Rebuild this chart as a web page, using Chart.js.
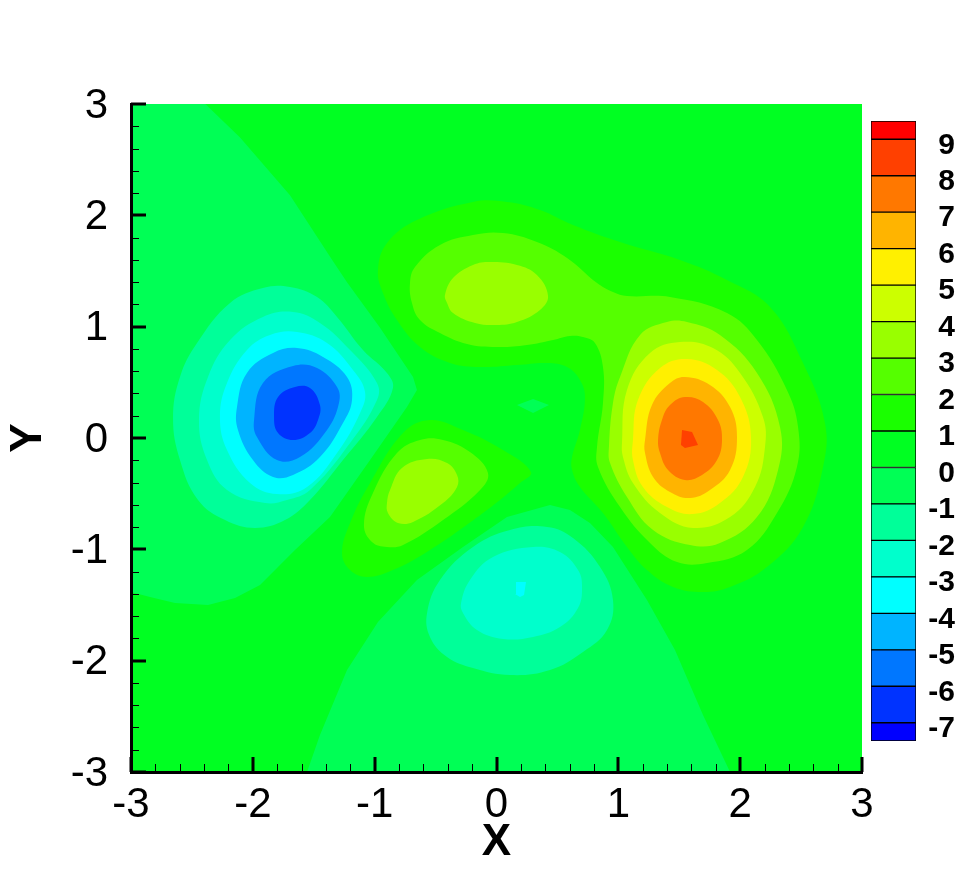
<!DOCTYPE html>
<html>
<head>
<meta charset="utf-8">
<title>Contour</title>
<script src="https://cdn.jsdelivr.net/npm/chart.js@4/dist/chart.umd.min.js"></script>
<style>
    html, body { margin: 0; padding: 0; background: #fff; }
    #wrap { position: relative; width: 977px; height: 869px; overflow: hidden; }
    #contourChart { position: absolute; left: 0; top: 0; }
    #barChart { position: absolute; left: 860px; top: 0; }
</style>
</head>
<body>
<div id="wrap">
    <canvas id="contourChart" width="977" height="869"></canvas>
    <canvas id="barChart" width="117" height="869"></canvas>
</div>
<script>
// contour bands, x/y in axis units
const plotBox = [[-3, 3], [3, 3], [3, -3], [-3, -3]];
const leftOuter = [[-3,3],[-2.39,3],[-2.105,2.7],[-1.695,2.18],[-1.35,1.6],[-1.227,1.4],[-0.956,0.99],[-0.685,0.548],[-0.653,0.431],[-0.735,0.278],[-1.055,-0.225],[-1.367,-0.71],[-1.654,-1.006],[-1.941,-1.32],[-2.146,-1.437],[-2.368,-1.5],[-2.639,-1.482],[-2.844,-1.428],[-3,-1.383]];
const bottomOuter = [[-1.555,-3],[-1.449,-2.668],[-1.227,-2.084],[-0.973,-1.653],[-0.653,-1.275],[-0.275,-0.979],[0.086,-0.71],[0.439,-0.602],[0.603,-0.647],[0.767,-0.763],[0.956,-0.979],[1.235,-1.455],[1.465,-1.904],[1.695,-2.488],[1.917,-3]];
const centerDiamond = [[0.168,0.296],[0.3,0.35],[0.431,0.296],[0.3,0.225]];

const bottomM2 = [[-0.57,-1.572],[-0.464,-1.275],[-0.193,-0.979],[0.111,-0.826],[0.415,-0.799],[0.628,-0.898],[0.85,-1.159],[0.956,-1.455],[0.907,-1.725],[0.71,-1.922],[0.439,-2.084],[0.111,-2.129],[-0.193,-2.066],[-0.406,-1.967],[-0.546,-1.787]];
const bottomM3 = [[-0.291,-1.482],[-0.218,-1.275],[-0.029,-1.069],[0.3,-0.979],[0.521,-1.024],[0.669,-1.186],[0.702,-1.338],[0.669,-1.527],[0.521,-1.698],[0.3,-1.787],[0.053,-1.805],[-0.16,-1.725],[-0.275,-1.572]];
const bottomM4 = [[0.16,-1.293],[0.242,-1.293],[0.226,-1.41],[0.193,-1.428],[0.152,-1.401]];

const leftM2 = [[-2.655,0.18],[-2.598,0.548],[-2.458,0.853],[-2.187,1.213],[-1.917,1.347],[-1.695,1.356],[-1.473,1.266],[-1.309,1.087],[-1.096,0.79],[-0.899,0.584],[-0.85,0.449],[-0.981,0.189],[-1.26,-0.198],[-1.531,-0.557],[-1.736,-0.737],[-1.982,-0.808],[-2.228,-0.737],[-2.45,-0.557],[-2.598,-0.198]];
const leftM3 = [[-2.442,0.162],[-2.368,0.548],[-2.187,0.88],[-1.917,1.087],[-1.67,1.132],[-1.449,1.033],[-1.202,0.79],[-0.981,0.494],[-0.981,0.341],[-1.202,-0.045],[-1.531,-0.467],[-1.72,-0.557],[-1.9,-0.584],[-2.212,-0.467],[-2.376,-0.198]];
const leftM4 = [[-2.27,0.189],[-2.212,0.494],[-2.048,0.79],[-1.859,0.925],[-1.637,0.952],[-1.391,0.853],[-1.178,0.611],[-1.079,0.413],[-1.12,0.225],[-1.309,-0.135],[-1.555,-0.44],[-1.802,-0.503],[-2.023,-0.404],[-2.212,-0.108]];
const leftM5 = [[-2.13,0.278],[-2.048,0.584],[-1.834,0.763],[-1.637,0.808],[-1.424,0.728],[-1.227,0.548],[-1.186,0.341],[-1.26,0.135],[-1.449,-0.171],[-1.67,-0.332],[-1.834,-0.35],[-1.999,-0.198],[-2.122,0.072]];
const leftM6 = [[-1.99,0.162],[-1.917,0.494],[-1.67,0.647],[-1.473,0.629],[-1.309,0.458],[-1.293,0.314],[-1.391,0.072],[-1.613,-0.171],[-1.802,-0.198],[-1.966,0.009]];
const leftM7 = [[-1.826,0.189],[-1.793,0.368],[-1.654,0.458],[-1.531,0.449],[-1.449,0.296],[-1.465,0.162],[-1.531,0.045],[-1.67,-0.018],[-1.793,0.045]];

const upperP1 = [[-0.973,1.509],[-0.899,1.751],[-0.653,1.958],[-0.193,2.12],[0.086,2.12],[0.357,2.048],[0.628,1.913],[1.014,1.76],[1.506,1.599],[1.892,1.419],[2.245,1.177],[2.516,0.674],[2.696,0.135],[2.68,-0.26],[2.516,-0.799],[2.22,-1.159],[1.917,-1.338],[1.695,-1.383],[1.449,-1.338],[1.235,-1.186],[1.071,-0.979],[0.874,-0.674],[0.685,-0.44],[0.62,-0.287],[0.62,-0.171],[0.685,0.072],[0.726,0.368],[0.685,0.521],[0.579,0.638],[0.415,0.674],[0.168,0.656],[-0.135,0.638],[-0.382,0.674],[-0.628,0.817],[-0.817,1.06],[-0.932,1.302]];
const upperP2 = [[-0.71,1.392],[-0.669,1.536],[-0.464,1.734],[-0.193,1.823],[0.053,1.841],[0.332,1.76],[0.579,1.617],[0.825,1.392],[0.956,1.311],[1.071,1.275],[1.424,1.266],[1.892,1.123],[2.138,0.88],[2.384,0.431],[2.475,0.099],[2.466,-0.26],[2.302,-0.674],[2.056,-1.006],[1.728,-1.123],[1.482,-1.114],[1.26,-0.943],[1.014,-0.62],[0.833,-0.26],[0.825,-0.081],[0.874,0.314],[0.874,0.638],[0.808,0.853],[0.71,0.907],[0.603,0.916],[0.464,0.88],[0.25,0.835],[0,0.817],[-0.242,0.844],[-0.464,0.943],[-0.628,1.06],[-0.694,1.213]];
const upperP3 = [[-0.423,1.284],[-0.357,1.437],[-0.193,1.554],[-0.053,1.581],[0.168,1.554],[0.332,1.464],[0.423,1.275],[0.357,1.15],[0.168,1.042],[0,1.015],[-0.176,1.033],[-0.357,1.123],[-0.406,1.213]];

const rightP3 = [[1.014,0.548],[1.178,0.925],[1.399,1.042],[1.564,1.042],[1.834,0.925],[2.138,0.584],[2.327,0.099],[2.311,-0.287],[2.138,-0.71],[1.834,-0.943],[1.588,-0.961],[1.285,-0.826],[1.071,-0.53],[0.932,-0.225],[0.923,-0.081],[0.956,0.314]];
const rightP4 = [[1.03,-0.045],[1.071,0.431],[1.26,0.763],[1.506,0.862],[1.777,0.808],[1.999,0.584],[2.187,0.189],[2.204,-0.081],[2.122,-0.44],[1.917,-0.71],[1.613,-0.808],[1.342,-0.674],[1.12,-0.404],[1.038,-0.171]];
const rightP5 = [[1.12,-0.018],[1.161,0.341],[1.342,0.629],[1.564,0.71],[1.81,0.611],[1.999,0.368],[2.089,0.009],[2.023,-0.35],[1.834,-0.584],[1.613,-0.683],[1.399,-0.62],[1.202,-0.44],[1.12,-0.198]];
const rightP6 = [[1.219,-0.018],[1.276,0.296],[1.424,0.494],[1.547,0.548],[1.752,0.476],[1.917,0.278],[1.974,0.009],[1.917,-0.287],[1.752,-0.467],[1.588,-0.539],[1.424,-0.485],[1.285,-0.35],[1.219,-0.135]];
const rightP7 = [[1.326,-0.018],[1.358,0.162],[1.424,0.296],[1.547,0.368],[1.695,0.323],[1.818,0.162],[1.851,-0.018],[1.81,-0.198],[1.687,-0.332],[1.547,-0.377],[1.408,-0.287],[1.342,-0.135]];
const rightP8 = [[1.523,0.072],[1.605,0.054],[1.654,-0.063],[1.547,-0.09],[1.514,-0.063]];

const lowerP1 = [[-1.268,-1.033],[-1.202,-0.763],[-1.038,-0.404],[-0.767,0.045],[-0.546,0.162],[-0.275,0.072],[0.053,-0.108],[0.283,-0.305],[0.193,-0.404],[-0.078,-0.647],[-0.546,-1.006],[-0.85,-1.186],[-1.063,-1.248],[-1.202,-1.186]];
const lowerP2 = [[-1.088,-0.781],[-1.014,-0.494],[-0.817,-0.135],[-0.628,-0.018],[-0.439,-0.018],[-0.218,-0.126],[-0.07,-0.314],[-0.135,-0.467],[-0.439,-0.737],[-0.767,-0.961],[-0.899,-0.979],[-1.022,-0.934]];
const lowerP3 = [[-0.899,-0.584],[-0.874,-0.467],[-0.776,-0.269],[-0.57,-0.189],[-0.406,-0.225],[-0.324,-0.332],[-0.324,-0.44],[-0.439,-0.584],[-0.685,-0.754],[-0.809,-0.763],[-0.891,-0.674]];

// colour bar
const barLevels = [-7, -6, -5, -4, -3, -2, -1, 0, 1, 2, 3, 4, 5, 6, 7, 8, 9];
const barLow = [-7.5, -7, -6, -5, -4, -3, -2, -1, 0, 1, 2, 3, 4, 5, 6, 7, 8, 9];
const barHigh = [-7, -6, -5, -4, -3, -2, -1, 0, 1, 2, 3, 4, 5, 6, 7, 8, 9, 9.5];
const barColors = ['#0000ff', '#0033ff', '#0077ff', '#00b4ff', '#00ffff', '#00ffcc', '#00ff99', '#00ff55', '#00ff22', '#1aff00', '#55ff00', '#99ff00', '#ccff00', '#fff000', '#ffb400', '#ff7800', '#ff4000', '#ff0000'];

// painter's order, outermost first. Colours are picked from the colour bar by band low value
const bandColor = low => barColors[barLow.indexOf(low)];
const regions = [
    [plotBox, 0, 0],
    [leftOuter, -1, 0], [bottomOuter, -1, 0], [centerDiamond, -1, 0],
    [bottomM2, -2, 0.4], [bottomM3, -3, 0.4], [bottomM4, -4, 0],
    [leftM2, -2, 0.4], [leftM3, -3, 0.4], [leftM4, -4, 0.4], [leftM5, -5, 0.4], [leftM6, -6, 0.4], [leftM7, -7, 0.4],
    [upperP1, 1, 0.4], [upperP2, 2, 0.4], [upperP3, 3, 0.4],
    [rightP3, 3, 0.4], [rightP4, 4, 0.4], [rightP5, 5, 0.4], [rightP6, 6, 0.4], [rightP7, 7, 0.4], [rightP8, 8, 0],
    [lowerP1, 1, 0.4], [lowerP2, 2, 0.4], [lowerP3, 3, 0.4]
];

// wrap the ring past its start so the spline has no kink where it closes
const closeRing = (pts, tension) => tension > 0
    ? pts.slice(-1).concat(pts, pts.slice(0, 2))
    : pts.concat([pts[0]]);

const contourDatasets = regions.map(([pts, low, tension]) => ({
    data: closeRing(pts, tension).map(([x, y]) => ({ x, y })),
    showLine: true,
    fill: 'shape',
    tension: tension,
    backgroundColor: bandColor(low),
    borderColor: bandColor(low),
    borderWidth: 0,
    pointRadius: 0,
    pointHoverRadius: 0
})).reverse(); // chart.js paints the first dataset last

// inward major and minor tick marks
const insideTicks = {
    id: 'insideTicks',
    afterDatasetsDraw(chart) {
        const { ctx, chartArea, scales } = chart;
        ctx.save();
        ctx.strokeStyle = '#000';
        for (let i = 0; i <= 30; i++) {
            const major = i % 5 === 0;
            const v = -3 + i / 5;
            const len = major ? 15 : 8;
            ctx.lineWidth = major ? 3 : 1;
            const px = Math.round(scales.x.getPixelForValue(v)) + (major ? 0 : 0.5);
            const py = Math.round(scales.y.getPixelForValue(v)) + (major ? 0 : 0.5);
            ctx.beginPath();
            ctx.moveTo(px, chartArea.bottom);
            ctx.lineTo(px, chartArea.bottom - len);
            ctx.moveTo(chartArea.left, py);
            ctx.lineTo(chartArea.left + len, py);
            ctx.stroke();
        }
        ctx.restore();
    }
};

const tickFont = { family: '"Liberation Sans", Arial, sans-serif', size: 42 };
const titleFont = { family: '"Liberation Sans", Arial, sans-serif', size: 44, weight: 'bold' };

new Chart(document.getElementById('contourChart'), {
    type: 'scatter',
    data: { datasets: contourDatasets },
    plugins: [insideTicks],
    options: {
        responsive: false,
        animation: false,
        events: [],
        layout: { padding: { left: 0, top: 104, right: 115, bottom: 0 } },
        plugins: { legend: { display: false }, tooltip: { enabled: false } },
        scales: {
            x: {
                type: 'linear', min: -3, max: 3,
                afterFit: s => { s.height = 97; },
                grid: { display: false, drawTicks: false },
                border: { color: '#000', width: 3, z: 1 },
                ticks: { stepSize: 1, color: '#000', font: tickFont, padding: 8, maxRotation: 0, autoSkip: false },
                title: { display: true, text: 'X', color: '#000', font: titleFont, padding: { top: 2, bottom: 0 } }
            },
            y: {
                type: 'linear', min: -3, max: 3,
                afterFit: s => { s.width = 131; },
                grid: { display: false, drawTicks: false },
                border: { color: '#000', width: 3, z: 1 },
                ticks: { stepSize: 1, color: '#000', font: tickFont, padding: 23, labelOffset: 2, autoSkip: false },
                title: { display: true, text: 'Y', color: '#000', font: titleFont, padding: { top: 2, bottom: 0 } }
            }
        }
    }
});

new Chart(document.getElementById('barChart'), {
    type: 'bar',
    data: {
        labels: [''],
        datasets: barColors.map((c, i) => ({
            data: [[barLow[i], barHigh[i]]],
            backgroundColor: c,
            borderColor: '#000',
            borderWidth: 1,
            borderSkipped: false,
            barPercentage: 1,
            categoryPercentage: 1,
            grouped: false
        }))
    },
    options: {
        responsive: false,
        animation: false,
        events: [],
        layout: { padding: { left: 11, top: 121, right: 22, bottom: 128 } },
        plugins: { legend: { display: false }, tooltip: { enabled: false } },
        scales: {
            x: { display: false },
            y: {
                position: 'right',
                min: -7.5, max: 9.5,
                afterBuildTicks: s => { s.ticks = barLevels.map(value => ({ value })); },
                afterFit: s => { s.width = 39; },
                grid: { display: false, drawTicks: false },
                border: { display: false },
                ticks: {
                    color: '#000',
                    font: { family: '"Liberation Sans", Arial, sans-serif', size: 30, weight: 'bold' },
                    crossAlign: 'far',
                    labelOffset: 6,
                    autoSkip: false
                }
            }
        }
    }
});
</script>
</body>
</html>
